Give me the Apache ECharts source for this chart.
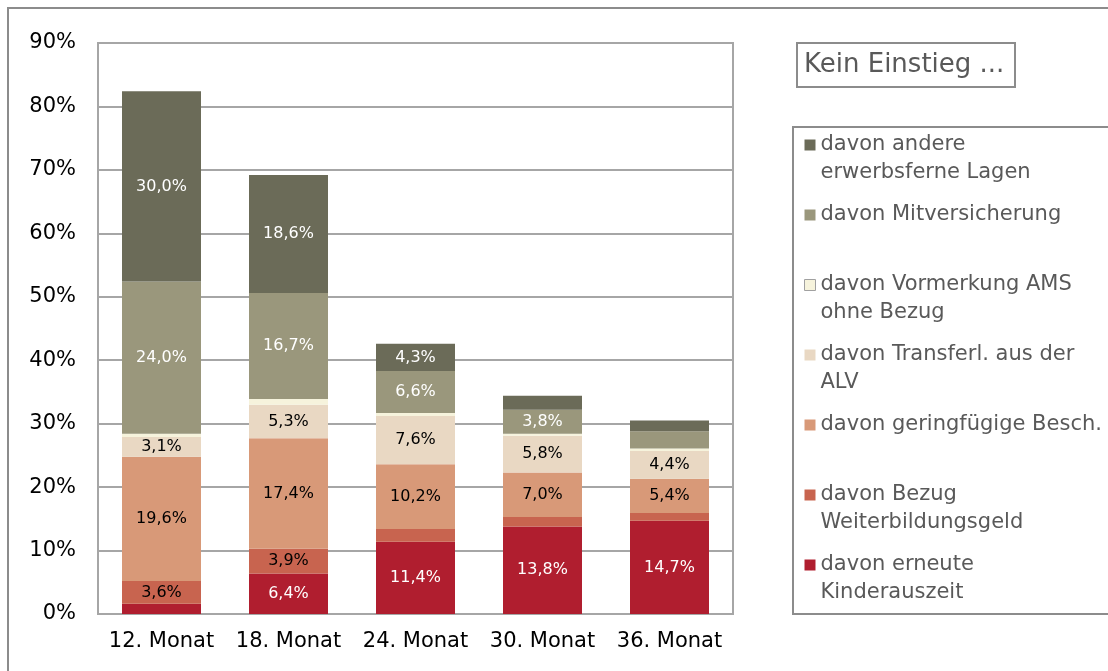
<!DOCTYPE html>
<html>
<head>
<meta charset="utf-8">
<script src="https://cdn.jsdelivr.net/npm/echarts@6/dist/echarts.min.js"></script>
<style>
  html, body { margin: 0; padding: 0; background: #fff; }
  #chart { width: 1108px; height: 671px; }
</style>
</head>
<body>
<div id="chart"></div>
<script>
// Kategorien
const months = ["12. Monat", "18. Monat", "24. Monat", "30. Monat", "36. Monat"];
const yTicks = [0, 10, 20, 30, 40, 50, 60, 70, 80, 90];

// Werte in % (von unten nach oben gestapelt)
const kinderauszeit = [1.6, 6.4, 11.4, 13.8, 14.7];
const weiterbildung = [3.6, 3.9, 2.0, 1.5, 1.2];
const geringfuegig = [19.6, 17.4, 10.2, 7.0, 5.4];
const transferl = [3.1, 5.3, 7.6, 5.8, 4.4];
const vormerkung = [0.5, 0.9, 0.5, 0.3, 0.4];
const mitversicherung = [24.0, 16.7, 6.6, 3.8, 2.7];
const andere = [30.0, 18.6, 4.3, 2.2, 1.7];

// welche Segmente beschriftet sind
const showKinder = [0, 1, 1, 1, 1];
const showWeiter = [1, 1, 0, 0, 0];
const showGering = [1, 1, 1, 1, 1];
const showTransf = [1, 1, 1, 1, 1];
const showVorm = [0, 0, 0, 0, 0];
const showMitv = [1, 1, 1, 1, 0];
const showAndere = [1, 1, 1, 0, 0];

const legendText = {
  "davon andere erwerbsferne Lagen": "davon andere\nerwerbsferne Lagen",
  "davon Mitversicherung": "davon Mitversicherung\n ",
  "davon Vormerkung AMS ohne Bezug": "davon Vormerkung AMS\nohne Bezug",
  "davon Transferl. aus der ALV": "davon Transferl. aus der\nALV",
  "davon geringfügige Besch.": "davon geringfügige Besch.\n ",
  "davon Bezug Weiterbildungsgeld": "davon Bezug\nWeiterbildungsgeld",
  "davon erneute Kinderauszeit": "davon erneute\nKinderauszeit"
};

const FONT = "DejaVu Sans";
const fmt = v => v.toFixed(1).replace(".", ",") + "%";

function makeSeries(name, values, mask, color, labelColor) {
  return {
    name: name,
    type: "bar",
    stack: "total",
    barWidth: 79,
    itemStyle: { color: color },
    data: values.map((v, i) => ({
      value: v,
      label: { show: mask[i] === 1 }
    })),
    label: {
      position: "inside",
      color: labelColor,
      fontSize: 16,
      fontFamily: FONT,
      formatter: p => fmt(p.value)
    }
  };
}

let chart = echarts.init(document.querySelector("#chart"));

// Quadrat oben, damit es zur ersten Textzeile passt
const iconPath = "path://M0,0L11,0L11,11L0,11ZM0,39";

let option = {
  animation: false,
  textStyle: { fontFamily: FONT },
  title: {
    text: "Kein Einstieg ...",
    left: 797,
    top: 43,
    padding: [9, 11, 9, 7],
    borderColor: "#8c8c8c",
    borderWidth: 2,
    textStyle: { fontSize: 26, fontWeight: "normal", color: "#595959", fontFamily: FONT }
  },
  legend: {
    orient: "vertical",
    left: 793,
    top: 127,
    padding: [4, 12, 7, 11],
    borderColor: "#8c8c8c",
    borderWidth: 2,
    itemWidth: 11,
    itemHeight: 39,
    itemGap: 14,
    selectedMode: false,
    data: Object.keys(legendText).map(n => {
      const d = { name: n, icon: iconPath };
      if (n === "davon Vormerkung AMS ohne Bezug") {
        d.itemStyle = { borderColor: "#a0a0a0", borderWidth: 1 };
      }
      return d;
    }),
    formatter: n => legendText[n],
    textStyle: { fontSize: 21, lineHeight: 28, color: "#595959", fontFamily: FONT }
  },
  grid: {
    left: 98,
    right: 375,
    top: 43,
    bottom: 57,
    show: true,
    borderColor: "#a6a6a6",
    borderWidth: 2
  },
  xAxis: {
    type: "category",
    data: months,
    axisLine: { lineStyle: { color: "#a6a6a6", width: 2 } },
    axisTick: { show: false },
    axisLabel: { interval: 0, color: "#000", fontSize: 21, margin: 17, fontFamily: FONT }
  },
  yAxis: {
    type: "value",
    min: yTicks[0],
    max: yTicks[yTicks.length - 1],
    interval: 10,
    axisLine: { show: true, lineStyle: { color: "#a6a6a6", width: 2 } },
    axisTick: { show: false },
    splitLine: { lineStyle: { color: "#a6a6a6", width: 2 } },
    axisLabel: { color: "#000", fontSize: 21, margin: 22, formatter: "{value}%", fontFamily: FONT }
  },
  graphic: [{
    type: "rect",
    shape: { x: 8, y: 8, width: 1200, height: 800 },
    style: { fill: "none", stroke: "#8c8c8c", lineWidth: 2 },
    silent: true
  }],
  series: [
    makeSeries("davon erneute Kinderauszeit", kinderauszeit, showKinder, "#b01e2f", "#fff"),
    makeSeries("davon Bezug Weiterbildungsgeld", weiterbildung, showWeiter, "#c8644f", "#000"),
    makeSeries("davon geringfügige Besch.", geringfuegig, showGering, "#d89978", "#000"),
    makeSeries("davon Transferl. aus der ALV", transferl, showTransf, "#e9d8c3", "#000"),
    makeSeries("davon Vormerkung AMS ohne Bezug", vormerkung, showVorm, "#f6f3dc", "#000"),
    makeSeries("davon Mitversicherung", mitversicherung, showMitv, "#9a977c", "#fff"),
    makeSeries("davon andere erwerbsferne Lagen", andere, showAndere, "#6b6b58", "#fff")
  ]
};

chart.setOption(option);
</script>
</body>
</html>
